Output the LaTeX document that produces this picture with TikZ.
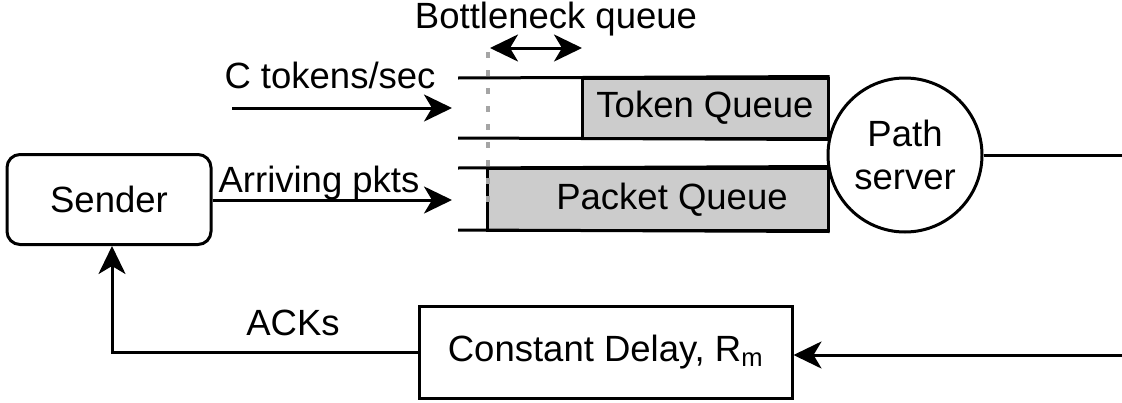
\documentclass[tikz,border=0pt]{standalone}
\usepackage{fontspec}
\setmainfont{Liberation Sans}
\usetikzlibrary{arrows.meta,positioning}

\definecolor{qfill}{RGB}{204,204,204}
\definecolor{dotgray}{RGB}{165,165,165}

\tikzset{
	txt/.style={font=\fontsize{36.5}{43}\selectfont, inner sep=0pt},
	qbox/.style={draw, fill=qfill, rectangle, inner sep=0pt}
}

\begin{document}
\begin{tikzpicture}[x=1pt,y=-1pt,line width=3pt,>={Stealth[length=28pt,width=27pt,inset=8pt]}]
	\useasboundingbox (0,0) rectangle (1122,402);

	% sender and return path
	\node[txt, draw, rounded corners=13pt, minimum width=204pt, minimum height=90pt] (sender) at (109,199.5) {Sender};
	\node[txt, draw, minimum width=373pt, minimum height=92pt] (delay) at (605.5,352) {Constant Delay, R\textsubscript{m}};
	\node[txt, draw, circle, minimum size=154pt, align=center] (server) at (905,155) {Path\\server};

	% the two queues
	\node[txt, qbox, minimum width=246pt, minimum height=60pt] (tokenq) at (705,108) {Token Queue};
	\node[qbox, minimum width=341pt, minimum height=62pt] (packetq) at (657.5,199)
		{\phantom{x}};
	\node[txt] (packetlbl) at (672,200) {Packet Queue};
	\draw (458,78) -- (tokenq.north east);
	\draw (458,138) -- (tokenq.south east);
	\draw (458,168) -- (packetq.north east);
	\draw (458,230) -- (packetq.south east);

	% bottleneck marker
	\draw[dotgray, line width=3.5pt, dash pattern=on 6pt off 12pt] (488,52) -- (488,202);
	\coordinate (bl) at (490,48);
	\coordinate (br) at (582,48);
	\draw[<->] (bl) -- (br);
	\node[txt, anchor=base] (bneck) at (556,28) {Bottleneck queue};

	% arrivals
	\coordinate (tokin) at (232,108);
	\coordinate (tokend) at (452,108);
	\draw[->] (tokin) -- (tokend);
	\node[txt, anchor=base] (toklbl) at (330,88) {C tokens/sec};
	\coordinate (pktend) at (452,200);
	\draw[->] (sender.east |- pktend) -- (pktend);
	\node[txt, anchor=base] (pktlbl) at (319,192) {Arriving pkts};

	% output and feedback
	\coordinate (out) at (1122,155);
	\draw (server.east) -- (out);
	\coordinate (ackin) at (1122,355);
	\draw[->] (ackin) -- (delay.east |- ackin);
	\coordinate (ackcorner) at (112,352);
	\draw[->] (delay.west |- ackcorner) -- (ackcorner) -- (sender.south -| ackcorner);
	\node[txt, anchor=base] (acklbl) at (293,335) {ACKs};
\end{tikzpicture}
\end{document}
